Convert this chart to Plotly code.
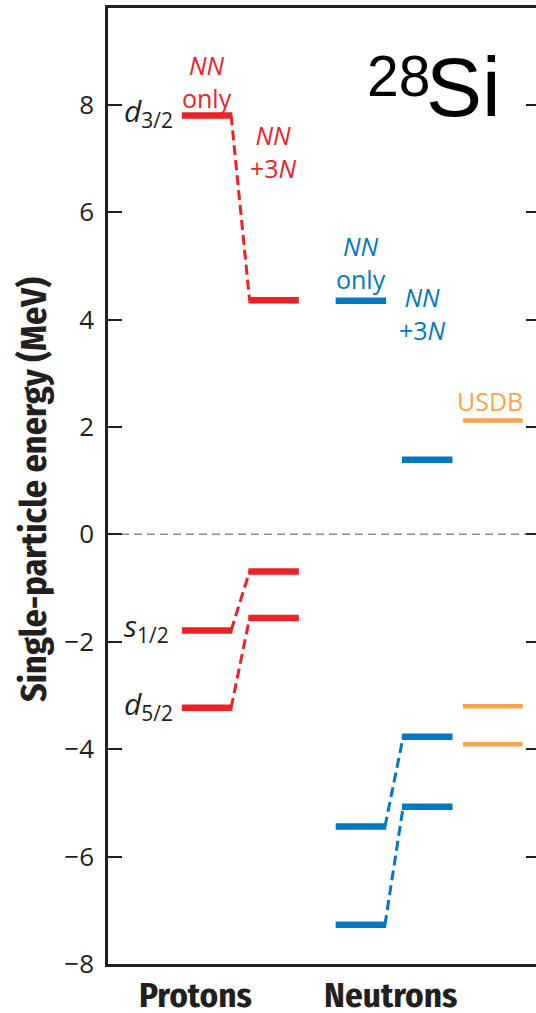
import plotly.graph_objects as go

# Single-particle energies (MeV) for the sd-shell orbitals of 28Si
orbitals = ["d3/2", "s1/2", "d5/2"]
proton_nn = [7.80, -1.79, -3.23]
proton_nn3n = [4.36, -0.69, -1.56]
neutron_nn = [4.35, -5.44, -7.27]
neutron_nn3n = [1.39, -3.77, -5.07]
usdb = [2.12, -3.20, -3.91]

y_ticks = [-8, -6, -4, -2, 0, 2, 4, 6, 8]

RED = "#EE2226"
BLUE = "#0079C1"
ORANGE = "#F8A54B"
INK = "#231F20"

# column centres and half-widths (x axis runs 0 .. 4.29)
COL = {"p_nn": 0.993, "p_3n": 1.66, "n_nn": 2.535, "n_3n": 3.20, "usdb": 3.857}
HALF = 0.253
HALF_USDB = 0.30

fig = go.Figure()


def connect(c1, c2, ys1, ys2, color):
    for y1, y2 in zip(ys1, ys2):
        fig.add_trace(go.Scatter(
            x=[COL[c1] + HALF - 0.012, COL[c2] - HALF + 0.012], y=[y1, y2],
            mode="lines", line=dict(color=color, width=3, dash="10px,5px"),
            hoverinfo="skip", showlegend=False))


def levels(col, ys, color, width, half=HALF):
    for y in ys:
        fig.add_trace(go.Scatter(
            x=[COL[col] - half, COL[col] + half], y=[y, y],
            mode="lines", line=dict(color=color, width=width),
            hoverinfo="skip", showlegend=False))


connect("p_nn", "p_3n", proton_nn, proton_nn3n, RED)
connect("n_nn", "n_3n", neutron_nn[1:], neutron_nn3n[1:], BLUE)
levels("p_nn", proton_nn, RED, 6.5)
levels("p_3n", proton_nn3n, RED, 6.5)
levels("n_nn", neutron_nn, BLUE, 6.5)
levels("n_3n", neutron_nn3n, BLUE, 6.5)
levels("usdb", usdb, ORANGE, 4.5, HALF_USDB)

# invisible trace so the mirrored right-hand tick axis is drawn
fig.add_trace(go.Scatter(x=[0], y=[0], yaxis="y2", mode="markers",
                         marker=dict(opacity=0), hoverinfo="skip", showlegend=False))

ann = []


def orbital_label(name):
    return "<i>%s</i><sub>%s</sub>" % (name[0], name[1:])


for name, y in zip(orbitals, proton_nn):
    ann.append(dict(x=0.14, y=y, xref="x", yref="y", xanchor="left", yanchor="middle",
                    text=orbital_label(name), showarrow=False, yshift=3,
                    font=dict(family="Open Sans", size=30, color=INK)))

lab_font = dict(family="Open Sans", size=25)
ann += [
    dict(x=COL["p_nn"], y=8.44, text="<i>NN</i><br>only", font=dict(lab_font, color=RED)),
    dict(x=COL["p_3n"], y=7.12, text="<i>NN</i><br>+3<i>N</i>", font=dict(lab_font, color=RED)),
    dict(x=COL["n_nn"], y=5.06, text="<i>NN</i><br>only", font=dict(lab_font, color=BLUE)),
    dict(x=3.15, y=4.11, text="<i>NN</i><br>+3<i>N</i>", font=dict(lab_font, color=BLUE)),
    dict(x=3.83, y=2.49, text="USDB", font=dict(lab_font, color=ORANGE)),
]
for a in ann[-5:]:
    a.update(xref="x", yref="y", xanchor="center", yanchor="middle", showarrow=False)

# nucleus name
ann += [
    dict(x=3.17, y=8.32, xref="x", yref="y", xanchor="left", yanchor="middle", text="Si",
         showarrow=False, font=dict(family="Liberation Sans", size=84, color="#000000")),
    dict(x=3.25, y=8.54, xref="x", yref="y", xanchor="right", yanchor="middle", text="28",
         showarrow=False, font=dict(family="Liberation Sans", size=57, color="#000000")),
]

cond = "Fira Sans Condensed, Open Sans Condensed, sans-serif"
ann += [
    dict(x=-0.1725, y=0.496, xref="paper", yref="paper", xanchor="center", yanchor="middle",
         textangle=-90, text="<b>Single-particle energy (MeV)</b>", showarrow=False,
         font=dict(family=cond, size=36, color=INK)),
    dict(x=0.875, y=-0.0325, xref="x", yref="paper", xanchor="center", yanchor="middle",
         text="<b>Protons</b>", showarrow=False,
         font=dict(family=cond, size=35, color=INK)),
    dict(x=2.83, y=-0.0325, xref="x", yref="paper", xanchor="center", yanchor="middle",
         text="<b>Neutrons</b>", showarrow=False,
         font=dict(family=cond, size=35, color=INK)),
]

fig.update_layout(
    width=536, height=1013,
    margin=dict(l=108, r=0, t=8, b=49),
    paper_bgcolor="white", plot_bgcolor="white",
    xaxis=dict(range=[0, 4.29], showline=True, mirror=True, linewidth=2.5, linecolor=INK,
               ticks="", showticklabels=False, showgrid=False, zeroline=False, fixedrange=True),
    yaxis=dict(range=[-8, 9.8], tickvals=y_ticks, ticks="inside", ticklen=14, tickwidth=2,
               tickcolor=INK, showline=True, linewidth=2.5, linecolor=INK, showgrid=False,
               zeroline=False, ticklabelstandoff=6,
               tickfont=dict(family="Open Sans", size=26, color=INK)),
    yaxis2=dict(range=[-8, 9.8], overlaying="y", side="right", tickvals=y_ticks,
                ticks="inside", ticklen=10, tickwidth=2, tickcolor=INK, showline=False,
                showticklabels=False, showgrid=False, zeroline=False),
    shapes=[dict(type="line", xref="paper", yref="y", x0=0, x1=1, y0=0, y1=0, layer="below",
                 line=dict(color="#8C8C8C", width=1.5, dash="8px,5px"))],
    annotations=ann,
)

fig.write_html("out.html")
